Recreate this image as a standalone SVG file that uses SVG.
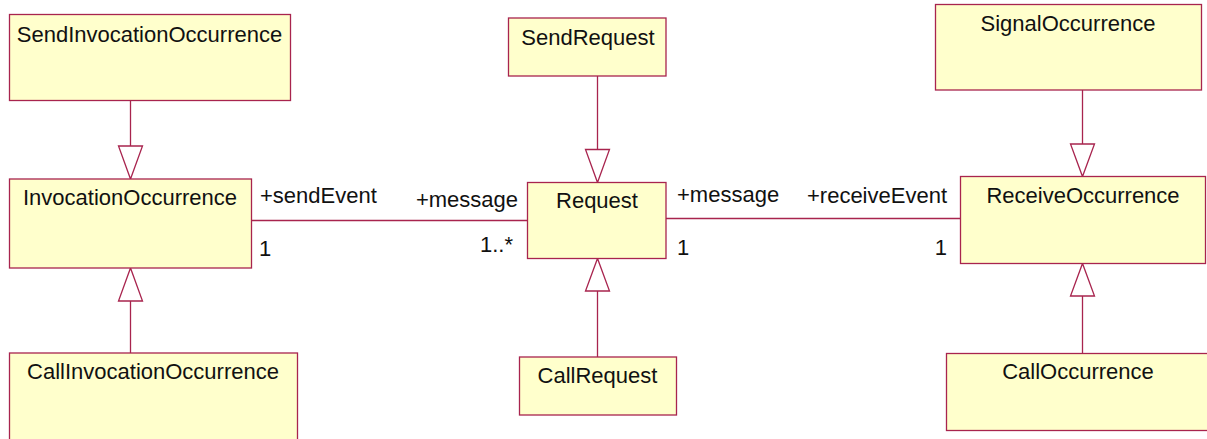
<svg xmlns="http://www.w3.org/2000/svg" width="1207" height="439" viewBox="0 0 1207 439">
<style>
.box{fill:#ffffcc;stroke:#a8244e;stroke-width:1.3}
.name{font-family:"Liberation Sans",Arial,sans-serif;font-size:22px;fill:#111;text-anchor:middle}
.lbl{font-family:"Liberation Sans",Arial,sans-serif;font-size:22px;fill:#111}
.end{text-anchor:end}
.ln{stroke:#a8244e;stroke-width:1.3;fill:none}
.tri{fill:#fff;stroke:#a8244e;stroke-width:1.3}
</style>
<rect width="1207" height="439" fill="#fff"/>
<g id="connectors">
<line class="ln" x1="130.5" y1="100.5" x2="130.5" y2="146"/>
<polygon class="tri" points="118.5,146 142.5,146 130.5,179"/>
<line class="ln" x1="130.5" y1="353" x2="130.5" y2="301"/>
<polygon class="tri" points="118.5,301 142.5,301 130.5,268"/>
<line class="ln" x1="597.5" y1="76" x2="597.5" y2="149.5"/>
<polygon class="tri" points="585.5,149.5 609.5,149.5 597.5,182.5"/>
<line class="ln" x1="597.5" y1="357" x2="597.5" y2="291"/>
<polygon class="tri" points="585.5,291 609.5,291 597.5,258.5"/>
<line class="ln" x1="1082.5" y1="90" x2="1082.5" y2="144"/>
<polygon class="tri" points="1070.5,144 1094.5,144 1082.5,176.5"/>
<line class="ln" x1="1082.5" y1="353.5" x2="1082.5" y2="296"/>
<polygon class="tri" points="1070.5,296 1094.5,296 1082.5,263.5"/>
<line class="ln" x1="251.5" y1="220.5" x2="527.5" y2="220.5"/>
<line class="ln" x1="666" y1="218.5" x2="960.5" y2="218.5"/>
<text class="lbl" x="260" y="203">+sendEvent</text>
<text class="lbl" x="259" y="255.5">1</text>
<text class="lbl end" x="518" y="206.5">+message</text>
<text class="lbl end" x="513" y="252">1..*</text>
<text class="lbl" x="677" y="202">+message</text>
<text class="lbl" x="677" y="255">1</text>
<text class="lbl end" x="947" y="203">+receiveEvent</text>
<text class="lbl end" x="947" y="255">1</text>
</g>
<g id="SendInvocationOccurrence">
<rect class="box" x="9.5" y="14.5" width="281" height="86"/>
<text class="name" x="149.5" y="42">SendInvocationOccurrence</text>
</g>
<g id="InvocationOccurrence">
<rect class="box" x="9.5" y="179" width="242" height="89"/>
<text class="name" x="130" y="205">InvocationOccurrence</text>
</g>
<g id="CallInvocationOccurrence">
<rect class="box" x="9.5" y="353" width="288" height="100"/>
<text class="name" x="153" y="379">CallInvocationOccurrence</text>
</g>
<g id="SendRequest">
<rect class="box" x="508.5" y="18" width="157.5" height="58"/>
<text class="name" x="588" y="45">SendRequest</text>
</g>
<g id="Request">
<rect class="box" x="527.5" y="182.5" width="138.5" height="76"/>
<text class="name" x="597" y="208">Request</text>
</g>
<g id="CallRequest">
<rect class="box" x="519.5" y="357" width="157" height="58"/>
<text class="name" x="597.5" y="383">CallRequest</text>
</g>
<g id="SignalOccurrence">
<rect class="box" x="935.5" y="4.5" width="266" height="85.5"/>
<text class="name" x="1068" y="31">SignalOccurrence</text>
</g>
<g id="ReceiveOccurrence">
<rect class="box" x="960.5" y="176.5" width="245" height="87"/>
<text class="name" x="1083" y="203">ReceiveOccurrence</text>
</g>
<g id="CallOccurrence">
<rect class="box" x="946.5" y="353.5" width="270" height="77"/>
<text class="name" x="1078" y="379">CallOccurrence</text>
</g>
</svg>
